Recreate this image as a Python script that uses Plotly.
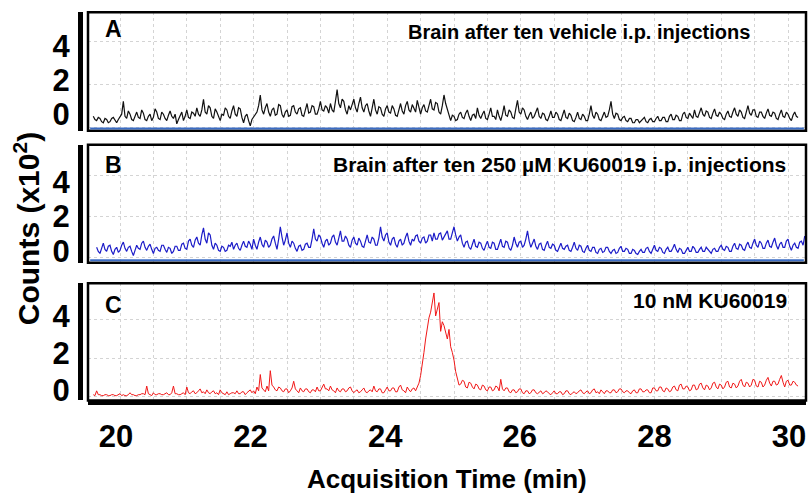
import plotly.graph_objects as go

# ---------------- data (Counts x10^2) ----------------
SCAN_STEP = 0.025  # min between plotted points

A_START = 19.60
A_COUNTS = [
    0.5,0.35, 0.3,0.45, 0.4,0.25, 0.2,0.4, 0.35,0.2, 0.25,0.4, 0.45,0.3, 0.2,0.35, 0.5,0.6, 1.2,0.5, 0.4,0.75, 0.6,0.35, 0.3,0.55, 0.7,0.45, 0.4,0.8, 0.65,0.35, 0.3,0.5, 0.6,0.3, 0.45,0.85, 0.7,0.4,
    0.35,0.7, 0.6,0.4, 0.3,0.55, 0.75,0.5, 0.4,0.6, 0.15,0.35, 0.55,0.7, 0.3,0.5, 0.8,0.45, 0.4,0.7, 0.65,0.5, 0.9,0.6, 0.5,0.8, 1.3,0.7, 0.6,1.0, 0.9,0.5, 0.4,0.85, 0.7,0.45, 0.3,0.6, 0.55,0.9,
    0.8,0.5, 0.4,0.75, 1.0,0.6, 0.5,0.9, 0.85,0.45, 0.2,0.5, 0.6,0.3, 0.05,0.35, 0.45,0.6, 0.7,1.0, 1.5,0.8, 0.6,0.9, 1.1,0.7, 0.5,0.8, 0.9,0.55, 0.6,1.05, 1.0,0.6, 0.45,0.7, 0.8,0.5, 0.55,0.95,
    1.0,0.7, 0.6,0.85, 0.9,0.55, 0.5,0.8, 1.1,0.65, 0.7,1.0, 0.95,0.6, 0.6,0.85, 1.2,0.8, 0.75,1.0, 0.9,0.65, 1.1,0.8, 0.7,1.2, 1.75,1.1, 0.9,1.3, 1.2,0.8, 0.6,1.0, 0.8,1.05, 1.3,0.9, 0.7,1.1,
    1.4,0.9, 0.7,1.0, 1.1,0.75, 0.5,0.9, 1.3,0.8, 0.6,0.95, 0.9,0.6, 0.5,0.85, 1.0,0.7, 0.65,1.0, 0.85,0.55, 0.5,0.8, 1.1,0.75, 0.6,1.0, 1.2,0.8, 0.7,1.05, 0.9,0.7, 1.25,0.85, 0.6,0.9, 1.05,0.75,
    0.7,1.0, 1.3,0.85, 0.8,1.15, 1.1,0.7, 0.6,1.0, 1.5,1.1, 0.8,0.5, 0.3,0.55, 0.5,0.3, 0.35,0.6, 0.7,0.45, 0.4,0.65, 0.8,0.5, 0.3,0.55, 0.6,0.4, 0.9,0.55, 0.4,0.6, 0.75,0.4, 0.35,0.6, 0.9,0.5,
    0.5,0.35, 0.8,0.5, 0.3,0.6, 1.0,0.55, 0.5,0.8, 0.7,0.45, 0.4,0.85, 1.25,0.7, 0.6,0.9, 0.8,0.5, 0.35,0.55, 0.7,0.4, 0.5,0.7, 0.9,0.5, 0.4,0.65, 0.6,0.35, 0.3,0.5, 0.75,0.45, 0.45,0.7, 0.6,0.35,
    0.3,0.55, 0.8,0.45, 0.4,0.65, 0.55,0.3, 0.25,0.45, 0.7,0.4, 0.35,0.6, 0.5,0.3, 0.3,0.6, 1.0,0.55, 0.4,0.7, 0.6,0.35, 0.3,0.5, 0.7,0.45, 0.5,0.8, 1.2,0.6, 0.4,0.65, 0.6,0.35, 0.3,0.45, 0.5,0.3,
    0.25,0.4, 0.4,0.2, 0.2,0.35, 0.35,0.2, 0.3,0.4, 0.45,0.25, 0.2,0.35, 0.4,0.25, 0.25,0.4, 0.5,0.3, 0.3,0.45, 0.45,0.25, 0.25,0.5, 0.6,0.35, 0.35,0.55, 0.5,0.3, 0.3,0.6, 0.7,0.45, 0.4,0.65, 0.55,0.4,
    0.8,0.5, 0.45,0.7, 0.9,0.6, 0.5,0.75, 0.7,0.45, 0.4,0.65, 0.85,0.55, 0.5,0.7, 0.6,0.4, 0.35,0.6, 0.75,0.5, 0.45,0.7, 0.9,0.6, 0.5,0.8, 0.7,0.45, 0.4,0.7, 1.0,0.65, 0.55,0.8, 0.8,0.5, 0.45,0.7,
    0.7,0.5, 0.4,0.65, 0.85,0.55, 0.5,0.7, 0.65,0.4, 0.35,0.6, 0.8,0.5, 0.45,0.7, 0.6,0.4, 0.3,0.55, 0.7,0.5, 0.45,
]

B_START = 19.65
B_COUNTS = [
    0.5,0.3, 0.2,0.45, 0.7,0.4, 0.3,0.55, 0.6,0.3, 0.15,0.4, 0.5,0.25, 0.35,0.6, 0.75,0.45, 0.3,0.5, 0.55,0.3, 0.1,0.35, 0.6,0.45, 0.4,0.7, 0.8,0.5, 0.35,0.55, 0.65,0.4, 0.2,0.45, 0.5,0.35, 0.3,0.6,
    0.6,0.4, 0.25,0.5, 0.45,0.2, 0.3,0.55, 0.55,0.35, 0.35,0.65, 0.7,0.45, 0.4,0.8, 0.9,0.6, 0.5,0.85, 1.0,0.7, 0.6,1.1, 1.45,0.9, 0.7,1.2, 1.1,0.6, 0.4,0.7, 0.6,0.35, 0.3,0.55, 0.5,0.3, 0.35,0.6,
    0.55,0.75, 0.4,0.6, 0.7,0.45, 0.35,0.6, 0.8,0.55, 0.5,0.8, 0.65,0.4, 0.9,0.6, 0.4,0.75, 1.0,0.65, 0.5,0.85, 0.75,0.5, 0.6,0.9, 1.05,0.7, 0.4,0.9, 1.5,1.0, 0.6,0.85, 1.2,0.7, 0.5,0.8, 0.7,0.45,
    0.3,0.55, 0.6,0.35, 0.4,0.65, 0.7,0.5, 0.5,0.9, 1.4,0.9, 0.8,1.1, 1.0,0.7, 0.5,0.8, 0.9,0.6, 0.7,1.0, 1.1,0.75, 0.6,0.95, 1.3,0.8, 0.8,1.05, 0.9,0.6, 0.5,0.85, 1.0,0.7, 0.6,0.95, 0.8,0.55,
    0.5,0.8, 1.1,0.75, 0.7,1.0, 0.9,0.6, 0.6,0.95, 1.5,1.0, 0.8,1.1, 1.2,0.75, 0.6,0.9, 1.0,0.65, 0.5,0.8, 0.9,0.6, 0.7,1.0, 1.2,0.8, 0.6,0.9, 0.8,1.05, 1.1,0.8, 0.7,0.95, 1.0,0.7, 0.8,1.1,
    1.1,0.8, 1.2,0.9, 0.9,1.15, 1.2,0.85, 1.0,1.2, 1.3,0.9, 0.9,1.2, 1.5,1.1, 0.8,1.0, 1.1,0.7, 0.5,0.75, 0.8,0.5, 0.4,0.65, 0.9,0.55, 0.5,0.75, 0.7,0.45, 0.35,0.6, 0.8,0.5, 0.45,0.75, 0.7,0.4,
    0.4,0.65, 0.9,0.55, 0.5,0.8, 0.75,0.45, 0.35,0.6, 1.0,0.7, 0.5,0.75, 0.8,0.5, 0.6,0.9, 1.3,0.8, 0.5,0.7, 0.9,0.55, 0.4,0.65, 0.7,0.4, 0.35,0.6, 0.8,0.5, 0.45,0.65, 0.6,0.35, 0.3,0.5, 0.7,0.45,
    0.4,0.55, 0.6,0.35, 0.3,0.5, 0.75,0.45, 0.35,0.6, 0.55,0.3, 0.25,0.45, 0.6,0.35, 0.3,0.5, 0.5,0.25, 0.2,0.4, 0.45,0.25, 0.3,0.5, 0.5,0.3, 0.2,0.35, 0.4,0.2, 0.25,0.45, 0.55,0.3, 0.3,0.45, 0.4,0.2,
    0.2,0.4, 0.35,0.2, 0.15,0.3, 0.4,0.25, 0.25,0.45, 0.5,0.3, 0.2,0.4, 0.6,0.35, 0.3,0.5, 0.45,0.25, 0.2,0.4, 0.5,0.3, 0.3,0.45, 0.65,0.4, 0.25,0.45, 0.4,0.2, 0.2,0.35, 0.5,0.3, 0.3,0.55, 0.45,0.25,
    0.25,0.4, 0.5,0.3, 0.3,0.5, 0.4,0.25, 0.2,0.4, 0.45,0.3, 0.3,0.5, 0.6,0.4, 0.35,0.55, 0.5,0.3, 0.3,0.55, 0.7,0.45, 0.4,0.65, 0.6,0.4, 0.35,0.6, 0.75,0.5, 0.45,0.7, 0.9,0.6, 0.5,0.8, 0.7,0.45,
    0.45,0.7, 0.85,0.55, 0.5,0.75, 0.95,0.6, 0.4,0.65, 0.75,0.5, 0.5,0.8, 0.9,0.55, 0.35,0.6, 0.7,0.5, 0.45,0.75, 0.8,0.6, 1.05,
]

C_START = 19.60
C_COUNTS = [
    0.1,0.05, 0.3,0.1, 0.1,0.05, 0.05,0.1, 0.1,0.05, 0.05,0.1, 0.1,0.05, 0.05,0.1, 0.15,0.05, 0.1,0.05, 0.05,0.1, 0.2,0.1, 0.1,0.05, 0.05,0.1, 0.1,0.15, 0.15,0.1, 0.55,0.15, 0.1,0.05, 0.2,0.1, 0.1,0.15,
    0.15,0.1, 0.1,0.15, 0.2,0.1, 0.1,0.2, 0.55,0.15, 0.15,0.1, 0.1,0.15, 0.2,0.1, 0.5,0.2, 0.15,0.25, 0.3,0.15, 0.2,0.3, 0.4,0.2, 0.25,0.15, 0.35,0.2, 0.15,0.25, 0.3,0.15, 0.2,0.1, 0.35,0.2, 0.15,0.1,
    0.25,0.1, 0.15,0.2, 0.2,0.15, 0.3,0.15, 0.15,0.25, 0.25,0.1, 0.2,0.3, 0.35,0.2, 0.3,0.15, 0.5,0.3, 1.15,0.45, 0.35,0.25, 0.55,0.3, 1.35,0.6, 0.5,0.35, 0.3,0.5, 0.45,0.3, 0.25,0.4, 0.4,0.2, 0.3,0.45,
    0.8,0.4, 0.3,0.2, 0.45,0.3, 0.25,0.4, 0.4,0.25, 0.2,0.35, 0.35,0.25, 0.5,0.3, 0.3,0.45, 0.65,0.4, 0.4,0.3, 0.55,0.35, 0.3,0.2, 0.45,0.3, 0.25,0.4, 0.4,0.25, 0.3,0.45, 0.5,0.3, 0.2,0.3, 0.35,0.2,
    0.25,0.35, 0.45,0.25, 0.2,0.3, 0.35,0.25, 0.55,0.3, 0.25,0.4, 0.4,0.2, 0.2,0.35, 0.5,0.3, 0.3,0.45, 0.45,0.25, 0.25,0.5, 0.6,0.35, 0.3,0.2, 0.5,0.35, 0.25,0.4, 0.45,0.3, 0.5,0.7, 1.1,1.6, 2.3,3.0,
    3.6,4.1, 4.4,5.0, 5.4,4.2, 4.6,4.9, 3.4,3.9, 3.7,3.3, 3.0,3.5, 2.6,2.3, 1.9,1.3, 0.9,0.6, 0.65,0.85, 0.8,0.5, 0.45,0.75, 0.7,0.5, 0.4,0.65, 0.6,0.4, 0.35,0.6, 0.55,0.35, 0.3,0.5, 0.5,0.3,
    0.35,0.55, 0.5,0.3, 0.9,0.4, 0.3,0.45, 0.45,0.25, 0.2,0.35, 0.35,0.2, 0.25,0.4, 0.4,0.2, 0.15,0.3, 0.3,0.15, 0.2,0.35, 0.35,0.2, 0.15,0.25, 0.3,0.15, 0.2,0.3, 0.25,0.15, 0.1,0.2, 0.3,0.15, 0.15,0.25,
    0.25,0.1, 0.15,0.3, 0.3,0.15, 0.1,0.2, 0.25,0.15, 0.2,0.3, 0.35,0.2, 0.15,0.25, 0.3,0.15, 0.2,0.35, 0.4,0.2, 0.25,0.15, 0.35,0.25, 0.15,0.3, 0.3,0.2, 0.2,0.35, 0.35,0.2, 0.25,0.4, 0.4,0.25, 0.2,0.3,
    0.3,0.2, 0.15,0.3, 0.35,0.2, 0.2,0.4, 0.4,0.25, 0.25,0.35, 0.35,0.2, 0.2,0.45, 0.45,0.3, 0.3,0.5, 0.5,0.3, 0.25,0.45, 0.4,0.25, 0.3,0.5, 0.55,0.35, 0.3,0.6, 0.65,0.4, 0.4,0.55, 0.5,0.3, 0.35,0.6,
    0.6,0.35, 0.4,0.65, 0.7,0.45, 0.35,0.6, 0.55,0.35, 0.45,0.7, 0.75,0.5, 0.4,0.65, 0.6,0.4, 0.5,0.75, 0.8,0.5, 0.45,0.7, 0.65,0.45, 0.55,0.8, 0.9,0.6, 0.5,0.75, 0.7,0.5, 0.6,0.9, 0.85,0.55, 0.5,0.8,
    0.75,0.5, 0.6,0.85, 1.0,0.7, 0.55,0.8, 0.8,0.6, 0.65,0.9, 1.1,0.75, 0.5,0.8, 0.85,0.6, 0.6,0.8, 0.75,0.6, 0.55,
]

PANEL_LETTERS = ["A", "B", "C"]
PANEL_TITLES = [
    "Brain after ten vehicle i.p. injections",
    "Brain after ten 250 \u00b5M KU60019 i.p. injections",
    "10 nM KU60019",
]
X_TICKS = [20, 22, 24, 26, 28, 30]
Y_TICKS = [0, 2, 4]
X_TITLE = "Acquisition Time (min)"
Y_TITLE = "Counts (x10<sup>2</sup>)"


def times(start, n):
    return [round(start + SCAN_STEP * i, 4) for i in range(n)]


# ---------------- layout geometry (pixels of an 808x496 page) ----------------
W, H = 808, 496
px = lambda v: v / W
py = lambda v: 1 - v / H

X_DOM = [px(88), px(806)]
Y_DOMS = [[py(133), py(12.5)], [py(267), py(147)], [py(407), py(288)]]
X_RANGE = [19.521, 30.269]
X_LABEL_RANGE = [19.584, 30.253]
Y_RANGES = [[-0.18, 5.37], [-0.25, 5.5], [-0.2, 5.9]]
LABEL_RANGES = [[-0.99, 6.0], [-0.69, 6.17], [-0.53, 5.74]]

FONT = "Liberation Sans, Arial, sans-serif"
GRID = "#d4d4d4"

fig = go.Figure()

series = [(A_START, A_COUNTS, "#111111", 1.2), (B_START, B_COUNTS, "#1c1cc8", 1.2),
          (C_START, C_COUNTS, "#f01818", 1.0)]
for i, (st, vals, col, lw) in enumerate(series):
    sfx = "" if i == 0 else str(i + 1)
    fig.add_trace(go.Scatter(x=times(st, len(vals)), y=vals, mode="lines",
                             line=dict(color=col, width=lw), xaxis="x" + sfx, yaxis="y" + sfx,
                             showlegend=False, hoverinfo="skip"))

# empty traces that register the labelled overlay axes
for i in range(3):
    sfx = "" if i == 0 else str(i + 1)
    fig.add_trace(go.Scatter(x=[], y=[], xaxis="x" + sfx, yaxis="y" + str(i + 4), showlegend=False))
fig.add_trace(go.Scatter(x=[], y=[], xaxis="x4", yaxis="y3", showlegend=False))

layout = dict(width=W, height=H, margin=dict(l=0, r=0, t=0, b=0),
              paper_bgcolor="white", plot_bgcolor="white", showlegend=False)

for i in range(3):
    sfx = "" if i == 0 else str(i + 1)
    layout["xaxis" + sfx] = dict(domain=X_DOM, range=X_RANGE, anchor="y" + sfx,
                                 showgrid=True, gridcolor=GRID, griddash="dot", gridwidth=1,
                                 tick0=20, dtick=0.5, showticklabels=False, ticks="",
                                 zeroline=False, showline=False)
    layout["yaxis" + sfx] = dict(domain=Y_DOMS[i], range=Y_RANGES[i], anchor="x" + sfx,
                                 showgrid=True, gridcolor=GRID, griddash="dot", gridwidth=1,
                                 tick0=0, dtick=2, showticklabels=False, ticks="",
                                 zeroline=False, showline=False)
    layout["yaxis" + str(i + 4)] = dict(overlaying="y" + sfx, anchor="free", position=px(80),
                                        side="left", range=LABEL_RANGES[i], tickvals=Y_TICKS,
                                        showgrid=False, zeroline=False, showline=True,
                                        linecolor="black", linewidth=5, ticks="",
                                        ticklabelstandoff=2,
                                        tickfont=dict(family=FONT, size=31, color="black", weight="bold"))

layout["xaxis4"] = dict(overlaying="x3", anchor="free", position=py(409), side="bottom",
                        range=X_LABEL_RANGE, tickvals=X_TICKS, showgrid=False, zeroline=False,
                        showline=True, linecolor="black", linewidth=4.5, ticks="",
                        ticklabelstandoff=5,
                        tickfont=dict(family=FONT, size=31, color="black", weight="bold"))

shapes = []
for i in range(3):
    sfx = "" if i == 0 else str(i + 1)
    shapes.append(dict(type="rect", xref="x" + sfx + " domain", yref="y" + sfx + " domain",
                       x0=0, x1=1, y0=0, y1=1, line=dict(color="black", width=2.5), layer="above"))
    if i < 2:
        shapes.append(dict(type="line", xref="x" + sfx + " domain", yref="y" + sfx + " domain",
                           x0=0.003, x1=0.997, y0=0.02, y1=0.02,
                           line=dict(color="#3b6cc4", width=2), layer="above"))
layout["shapes"] = shapes

letter_y = [29, 168, 310]
title_right = [752, 788, 789]
title_y = [33, 167.5, 305.5]
title_sizes = [20, 21, 21]
ann = []
for i in range(3):
    ann.append(dict(text=PANEL_LETTERS[i], xref="paper", yref="paper", x=px(103), y=py(letter_y[i]),
                    xanchor="left", yanchor="middle", showarrow=False,
                    font=dict(family=FONT, size=23, color="black", weight="bold")))
    ann.append(dict(text=PANEL_TITLES[i], xref="paper", yref="paper", x=px(title_right[i]),
                    y=py(title_y[i]), xanchor="right", yanchor="middle", showarrow=False,
                    font=dict(family=FONT, size=title_sizes[i], color="black", weight="bold")))
ann.append(dict(text=Y_TITLE, xref="paper", yref="paper", x=px(27), y=py(233), textangle=-90,
                xanchor="center", yanchor="middle", showarrow=False,
                font=dict(family=FONT, size=30, color="black", weight="bold")))
ann.append(dict(text=X_TITLE, xref="paper", yref="paper", x=px(447), y=py(487),
                xanchor="center", yanchor="middle", showarrow=False,
                font=dict(family=FONT, size=26, color="black", weight="bold")))
layout["annotations"] = ann

fig.update_layout(**layout)
fig.write_html("out.html", config={"displayModeBar": False},
               post_script="document.body.style.margin='0px';document.body.style.overflow='hidden';")
